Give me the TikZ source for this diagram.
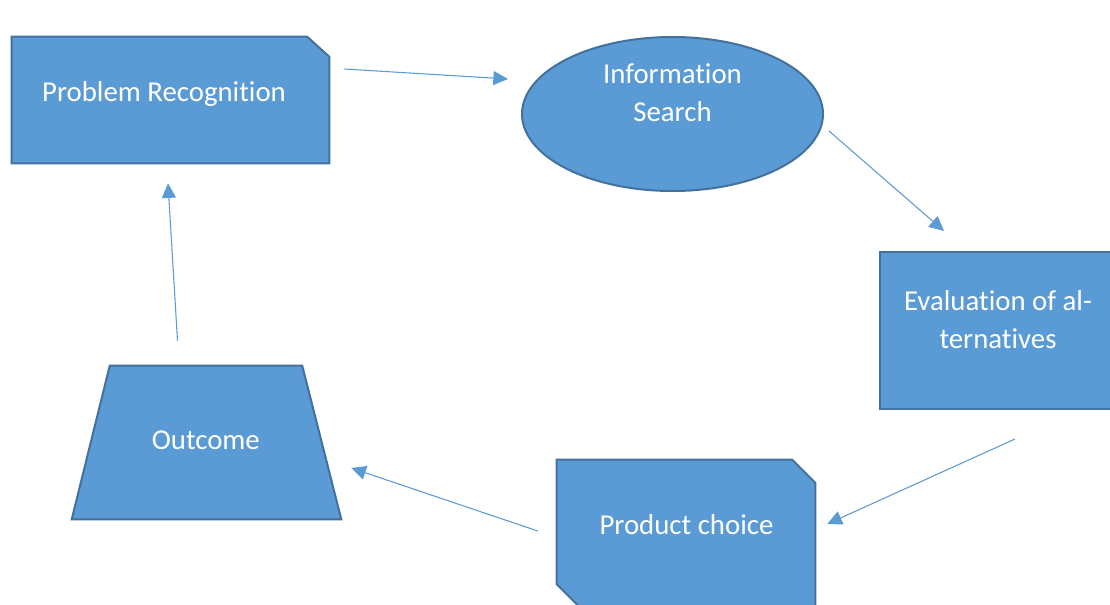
\documentclass[tikz,border=0pt]{standalone}
\usepackage{fontspec}
\setmainfont{Carlito}[Ligatures=NoCommon]
\usepackage{tikz}
\usetikzlibrary{calc, shapes.geometric, arrows.meta}

\definecolor{boxfill}{HTML}{5B9BD5}
\definecolor{boxline}{HTML}{41719C}
\newcommand{\pix}[1]{#1*0.75pt}

\begin{document}
\begin{tikzpicture}[x=0.75pt, y=-0.75pt,
    stage/.style={draw=boxline, fill=boxfill, line width=1.5pt, inner sep=0pt},
    holder/.style={inner sep=0pt},
    caption/.style={text=white, align=center, font=\fontsize{21.6}{28.5}\selectfont},
    flow/.style={draw=boxfill, line width=0.8pt, -{Triangle[length=11pt, width=10.5pt]}}]
        \useasboundingbox (0,0) rectangle (1110,604);
        % the five stages
        \node[holder, minimum width=\pix{317}, minimum height=\pix{126}] (problem) at (170.5,100) {};
        \node[stage, ellipse, minimum width=\pix{301}, minimum height=\pix{154}] (search) at (672.5,114) {};
        \node[stage, minimum width=\pix{236}, minimum height=\pix{157}] (eval) at (998,330.5) {};
        \node[holder, minimum width=\pix{258}, minimum height=\pix{147}] (product) at (686,533.5) {};
        \node[holder, minimum width=\pix{269}, minimum height=\pix{153}] (outcome) at (206.5,442.5) {};
        % snipped corners and the trapezium
        \draw[stage] (problem.south west) -- (problem.north west)
            -- ($(problem.north east)+(-22,0)$) -- ($(problem.north east)+(0,20)$)
            -- (problem.south east) -- cycle;
        \draw[stage] (product.north west)
            -- ($(product.north east)+(-23,0)$) -- ($(product.north east)+(0,23)$)
            -- (product.south east)
            -- ($(product.south west)+(23,0)$) -- ($(product.south west)+(0,-23)$) -- cycle;
        \draw[stage] ($(outcome.north west)+(38,0)$) -- ($(outcome.north east)+(-39,0)$)
            -- (outcome.south east) -- (outcome.south west) -- cycle;
        % their captions
        \node[caption] (problem-t) at ($(problem)+(-6.5,-6)$) {Problem Recognition};
        \node[caption] (search-t) at ($(search)+(0,-21.5)$) {Information\\Search};
        \node[caption] (eval-t) at ($(eval)+(0,-10.5)$) {Evaluation of al-\\ternatives};
        \node[caption] (product-t) at ($(product)+(0.5,-8.5)$) {Product choice};
        \node[caption] (outcome-t) at ($(outcome)+(-0.7,-2)$) {Outcome};
        % arrows round the cycle
        \draw[flow] ($(problem.east)+(15,-31)$) -- ($(search.west)+(-13,-35)$);
        \draw[flow] ($(search.east)+(5,17)$) -- ($(eval.north)+(-54,-20)$);
        \draw[flow] ($(eval.south)+(17,29)$) -- ($(product.east)+(12,-9.5)$);
        \draw[flow] ($(product.west)+(-19,-2.5)$) -- ($(outcome.east)+(10,25.5)$);
        \draw[flow] ($(outcome.north)+(-29,-25)$) -- ($(problem.south)+(-2.5,20)$);
\end{tikzpicture}
\end{document}
